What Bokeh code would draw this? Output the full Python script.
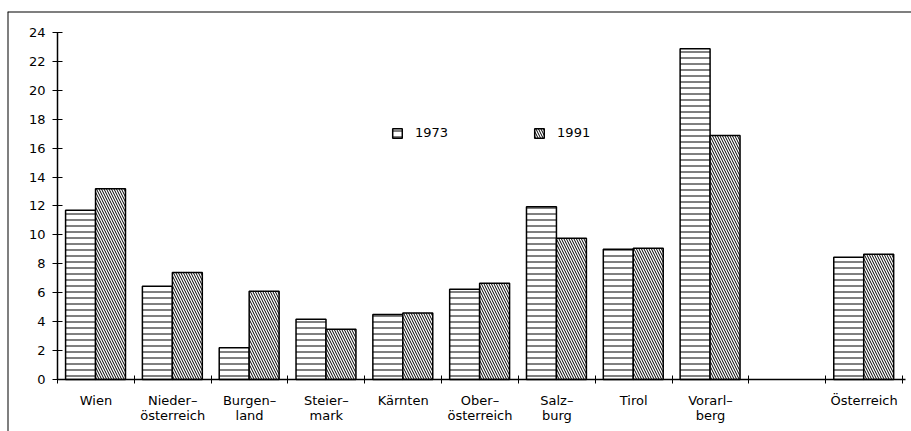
from bokeh.plotting import figure
from bokeh.models import (Range1d, FixedTicker, Legend, LegendItem, ColumnDataSource,
                          LinearAxis)
from bokeh.embed import file_html
from bokeh.resources import INLINE

# ---- data ----
regions = ["Wien", "Nieder\u2013\nösterreich", "Burgen\u2013\nland", "Steier\u2013\nmark",
           "Kärnten", "Ober\u2013\nösterreich", "Salz\u2013\nburg", "Tirol",
           "Vorarl\u2013\nberg", "Österreich"]
v1973 = [11.7, 6.45, 2.2, 4.17, 4.5, 6.25, 11.95, 9.0, 22.87, 8.46]
v1991 = [13.2, 7.4, 6.1, 3.48, 4.6, 6.66, 9.77, 9.08, 16.87, 8.66]
y_ticks = [0, 2, 4, 6, 8, 10, 12, 14, 16, 18, 20, 22, 24]
series_labels = ["1973", "1991"]

# slot positions: an empty slot before the Austria total
slots = list(range(len(regions) - 1)) + [len(regions)]
n_slots = len(regions) + 1
centers = [s + 0.5 for s in slots]

FONT = "DejaVu Sans"
X0, X1 = -0.651, 11.117
Y0, Y1 = -3.597, 25.452

# frame spans the whole boxed area; axes are drawn at fixed data locations
p = figure(width=911, height=431, output_backend="svg", toolbar_location=None,
           x_range=Range1d(X0, X1), y_range=Range1d(Y0, Y1),
           min_border_left=7, min_border_right=0, min_border_top=11,
           min_border_bottom=0)
p.outline_line_color = None
p.xgrid.visible = False
p.ygrid.visible = False
p.background_fill_color = "white"
p.border_fill_color = "white"

src = ColumnDataSource(dict(
    x1=[c - 0.2 for c in centers], x2=[c + 0.19 for c in centers],
    v1973=v1973, v1991=v1991))

r1 = p.vbar(x="x1", top="v1973", width=0.39, bottom=0, source=src,
            fill_color="white", line_color="black", line_width=1.5,
            hatch_pattern="-", hatch_color="black", hatch_scale=6, hatch_weight=1)
r2 = p.vbar(x="x2", top="v1991", width=0.39, bottom=0, source=src,
            fill_color="white", line_color="black", line_width=1.5,
            hatch_pattern="\\", hatch_color="black", hatch_scale=5, hatch_weight=1)

# y axis
ya = p.yaxis[0]
ya.fixed_location = 0
ya.bounds = (0, 24)
ya.ticker = FixedTicker(ticks=y_ticks)
ya.major_tick_in = 5
ya.major_tick_out = 5
ya.minor_tick_in = 0
ya.minor_tick_out = 0
ya.axis_line_width = 1.5
ya.axis_line_color = "black"
ya.major_tick_line_color = "black"
ya.major_label_text_font = FONT
ya.major_label_text_font_size = "13px"
ya.major_label_text_color = "black"
ya.major_label_standoff = 7

# x axis: ticks at slot boundaries, labels at centers
xa = p.xaxis[0]
xa.fixed_location = 0
xa.bounds = (0, n_slots + 0.04)
xa.ticker = FixedTicker(ticks=centers, minor_ticks=list(range(n_slots + 1)))
xa.major_label_overrides = {c: lab for c, lab in zip(centers, regions)}
xa.major_tick_in = 0
xa.major_tick_out = 0
xa.minor_tick_in = 4
xa.minor_tick_out = 4
xa.minor_tick_line_color = "black"
xa.axis_line_width = 1.5
xa.axis_line_color = "black"
xa.major_label_text_font = FONT
xa.major_label_text_font_size = "13px"
xa.major_label_text_color = "black"
xa.major_label_text_line_height = 0.95
xa.major_label_standoff = 10

# box lines (left and top edges of the chart frame)
def frame_axis(**kw):
    ax = LinearAxis(ticker=FixedTicker(ticks=[]), axis_line_color="black",
                    axis_line_width=2, major_tick_in=0, major_tick_out=0,
                    minor_tick_in=0, minor_tick_out=0,
                    major_label_text_font_size="0px", **kw)
    return ax

p.add_layout(frame_axis(fixed_location=X0), "left")
p.add_layout(frame_axis(fixed_location=Y1), "above")

legend = Legend(items=[LegendItem(label=series_labels[0], renderers=[r1]),
                       LegendItem(label=series_labels[1], renderers=[r2])],
                location=(384, 291), orientation="horizontal",
                glyph_width=12, glyph_height=12, label_standoff=12, spacing=85,
                padding=0, margin=0, label_height=12,
                border_line_color=None, background_fill_alpha=0,
                label_text_font=FONT, label_text_font_size="13px",
                label_text_color="black")
p.add_layout(legend, "center")

open("out.html", "w").write(file_html(p, INLINE))
